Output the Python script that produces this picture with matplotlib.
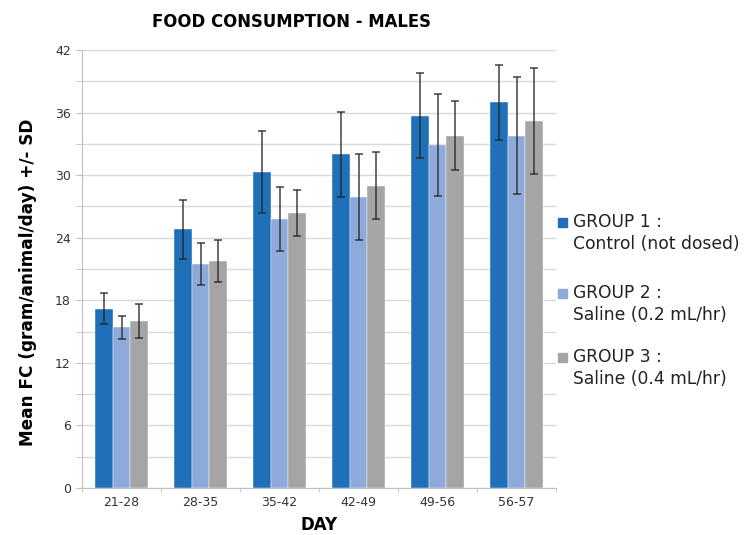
import matplotlib
matplotlib.use("Agg")
import matplotlib.pyplot as plt
import numpy as np
from matplotlib.patches import Rectangle
from matplotlib.ticker import MultipleLocator

categories = ["21-28", "28-35", "35-42", "42-49", "49-56", "56-57"]
group_labels = ["GROUP 1 :\nControl (not dosed)", "GROUP 2 :\nSaline (0.2 mL/hr)", "GROUP 3 :\nSaline (0.4 mL/hr)"]
g1_mean = [17.2, 24.8, 30.3, 32.0, 35.7, 37.0]
g1_sd = [1.5, 2.8, 3.9, 4.1, 4.1, 3.6]
g2_mean = [15.4, 21.5, 25.8, 27.9, 32.9, 33.8]
g2_sd = [1.1, 2.0, 3.1, 4.1, 4.9, 5.6]
g3_mean = [16.0, 21.8, 26.4, 29.0, 33.8, 35.2]
g3_sd = [1.6, 2.0, 2.2, 3.2, 3.3, 5.1]

colors = ["#1f70b8", "#8eaadb", "#a5a5a5"]
plt.rcParams['font.family'] = ['DejaVu Sans']

fig = plt.figure(figsize=(7.48, 5.35), dpi=100)
ax = fig.add_axes([82/748, 47/535, (556-82)/748, (488-50)/535])

x = np.arange(len(categories))
w = 0.22
means = [g1_mean, g2_mean, g3_mean]
sds = [g1_sd, g2_sd, g3_sd]
for i in range(3):
    ax.bar(x + (i-1)*w, means[i], w, color=colors[i], zorder=3,
           edgecolor='white', linewidth=0.3)
    ax.errorbar(x + (i-1)*w, means[i], yerr=sds[i], fmt='none', ecolor='#222222',
                elinewidth=1.1, capsize=3, capthick=1.1, zorder=4, alpha=0.85)

ax.set_xlim(-0.5, len(categories)-0.5)
ax.set_ylim(0, 42)
ax.yaxis.set_major_locator(MultipleLocator(6))
ax.yaxis.set_minor_locator(MultipleLocator(3))
ax.grid(axis='y', which='both', color='#d9d9d9', linewidth=1.0, zorder=0)
ax.set_axisbelow(True)
for s in ['top', 'right']:
    ax.spines[s].set_visible(False)
ax.spines['left'].set_color('#bfbfbf')
ax.spines['bottom'].set_color('#bfbfbf')
ax.tick_params(axis='y', which='both', length=4, color='#bfbfbf', labelsize=9, labelcolor='#333333', pad=4)
ax.set_xticks(x)
ax.set_xticklabels(categories, fontsize=9, color='#333333')
ax.tick_params(axis='x', which='major', length=0, pad=6)
ax.set_xticks(np.arange(-0.5, len(categories)), minor=True)
ax.tick_params(axis='x', which='minor', length=3, color='#bfbfbf')

ax.set_xlabel("DAY", fontsize=12, fontweight='bold', labelpad=5)
ax.set_ylabel("Mean FC (gram/animal/day) +/- SD", fontsize=12.2, fontweight='bold')
ax.yaxis.set_label_coords(-0.095, 0.47)
fig.text(291/748, 1 - 22/535, "FOOD CONSUMPTION - MALES", fontsize=11.9, fontweight='bold',
         ha='center', va='center')

# legend
leg_y = [222, 293, 357]
for i in range(3):
    y0 = leg_y[i]
    fig.add_artist(Rectangle((558/748, 1 - (y0+5)/535), 9/748, 9/535,
                             transform=fig.transFigure, color=colors[i]))
    l1, l2 = group_labels[i].split("\n")
    fig.text(573/748, 1 - y0/535, l1, fontsize=12.3, va='center', ha='left', color='#222222')
    fig.text(573/748, 1 - (y0+22)/535, l2, fontsize=12.3, va='center', ha='left', color='#222222')

fig.savefig("out.png", dpi=100)
